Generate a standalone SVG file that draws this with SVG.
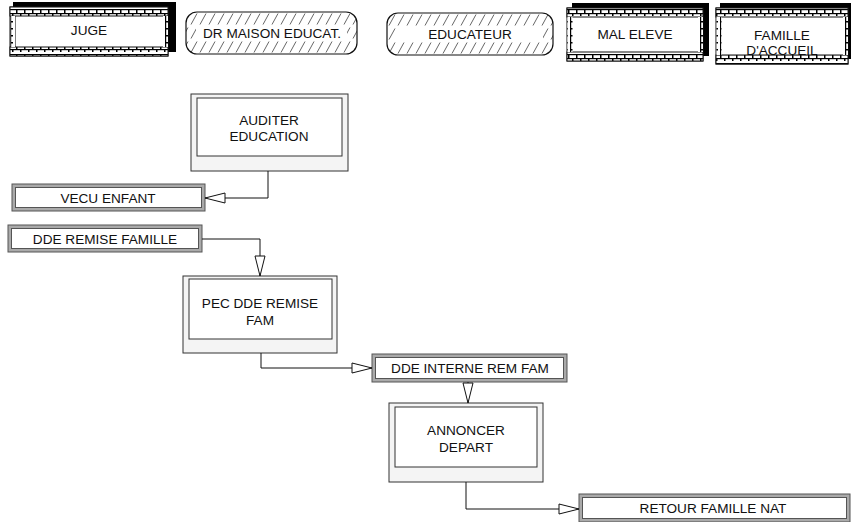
<svg xmlns="http://www.w3.org/2000/svg" width="852" height="522" viewBox="0 0 852 522">
<style>
text{font-family:"Liberation Sans",Arial,sans-serif;font-size:13.6px;fill:#111;text-anchor:middle;dominant-baseline:central}
.main{fill:#fff;stroke:#111;stroke-width:1}
.shadow{fill:#000}
.bh{fill:url(#brickH);stroke:#111;stroke-width:1}
.bv{fill:url(#brickV);stroke:none}
.hatch{stroke:#111;stroke-width:1.2}
.band{fill:#fff}
.pout{fill:#f4f4f4;stroke:#333;stroke-width:1}
.pin{fill:#fff;stroke:#333;stroke-width:1}
.gout{fill:#aaa;stroke:#555;stroke-width:1}
.gin{fill:#fff;stroke:#555;stroke-width:1}
.conn{fill:none;stroke:#111;stroke-width:1;marker-end:url(#arr)}
</style>
<defs>
<pattern id="brickH" width="8" height="9" patternUnits="userSpaceOnUse">
<rect width="8" height="9" fill="#fff"/>
<rect x="0" y="0" width="8" height="1.2" fill="#000"/>
<rect x="0" y="4" width="8" height="1.2" fill="#000"/>
<rect x="0" y="0" width="1.5" height="4" fill="#000"/>
<rect x="4" y="4" width="1.5" height="3" fill="#000"/>
</pattern>
<pattern id="brickV" width="5" height="7" patternUnits="userSpaceOnUse">
<rect width="5" height="7" fill="#fff"/>
<rect x="0" y="0" width="1.2" height="7" fill="#000"/>
<rect x="0" y="0" width="3" height="1.5" fill="#000"/>
</pattern>
<pattern id="hatchA" x="0" y="12" width="9" height="14" patternUnits="userSpaceOnUse">
<rect width="9" height="14" fill="#fff"/>
<line x1="2" y1="12.5" x2="8" y2="1.5" stroke="#555" stroke-width="0.9"/>
</pattern>
<pattern id="hatchB" x="0" y="13" width="9" height="14" patternUnits="userSpaceOnUse">
<rect width="9" height="14" fill="#fff"/>
<line x1="2" y1="12.5" x2="8" y2="1.5" stroke="#555" stroke-width="0.9"/>
</pattern>
<marker id="arr" viewBox="-1 -6 22 12" markerWidth="22" markerHeight="12" refX="20" refY="0" orient="auto" markerUnits="userSpaceOnUse">
<path d="M0,-5 L20,0 L0,5 Z" fill="#fff" stroke="#111" stroke-width="1"/>
</marker>
</defs>

<g id="juge">
<rect class="shadow" x="13" y="2" width="163" height="50"/>
<rect class="main" x="10" y="7" width="158" height="49"/>
<rect class="bh" x="10" y="7" width="158" height="9"/>
<rect class="bh" x="10" y="47" width="158" height="9"/>
<rect class="bv" x="10.5" y="16" width="5" height="31"/>
<rect class="bv" x="163" y="16" width="5" height="31"/>
<text x="89" y="30">JUGE</text>
</g>

<g id="dr-maison">
<rect class="hatch" fill="url(#hatchA)" x="186" y="12" width="171" height="42" rx="11" ry="11"/>
<rect class="band" x="196" y="26" width="151" height="14"/>
<text x="272" y="33">DR MAISON EDUCAT.</text>
</g>

<g id="educateur">
<rect class="hatch" fill="url(#hatchB)" x="387" y="13" width="166" height="42" rx="11" ry="11"/>
<rect class="band" x="397" y="27" width="146" height="14"/>
<text x="470" y="34">EDUCATEUR</text>
</g>

<g id="mal-eleve">
<rect class="shadow" x="572" y="3" width="137" height="53"/>
<rect class="main" x="567" y="8" width="136" height="53"/>
<rect class="bh" x="567" y="8" width="136" height="9"/>
<rect class="bh" x="567" y="52" width="136" height="9"/>
<rect class="bv" x="567.5" y="17" width="5" height="35"/>
<rect class="bv" x="698" y="17" width="5" height="35"/>
<text x="635" y="34">MAL ELEVE</text>
</g>

<g id="famille-accueil">
<rect class="shadow" x="720" y="3" width="131" height="56"/>
<rect class="main" x="716" y="8" width="132" height="56"/>
<rect class="bh" x="716" y="8" width="132" height="9"/>
<rect class="bh" x="716" y="55" width="132" height="9"/>
<rect class="bv" x="716.5" y="17" width="5" height="38"/>
<rect class="bv" x="843" y="17" width="5" height="38"/>
<text x="782" y="35">FAMILLE</text>
<text x="782" y="50">D'ACCUEIL</text>
</g>

<g id="auditer-education">
<rect class="pout" x="191" y="94" width="157" height="77"/>
<rect class="pin" x="197" y="98" width="145" height="58"/>
<text x="269" y="120">AUDITER</text>
<text x="269" y="136">EDUCATION</text>
</g>

<g id="vecu-enfant">
<rect class="gout" x="12" y="184" width="193" height="27"/>
<rect class="gin" x="15.5" y="187.5" width="186" height="20"/>
<text x="108" y="198">VECU ENFANT</text>
</g>

<g id="dde-remise-famille">
<rect class="gout" x="8" y="225" width="194" height="27"/>
<rect class="gin" x="11.5" y="228.5" width="187" height="20"/>
<text x="105" y="239">DDE REMISE FAMILLE</text>
</g>

<g id="pec-dde-remise-fam">
<rect class="pout" x="183" y="276" width="154" height="77"/>
<rect class="pin" x="189" y="279" width="143" height="60"/>
<text x="260" y="303">PEC DDE REMISE</text>
<text x="260" y="320">FAM</text>
</g>

<g id="dde-interne-rem-fam">
<rect class="gout" x="372" y="354" width="195" height="28"/>
<rect class="gin" x="375.5" y="357.5" width="188" height="21"/>
<text x="470" y="368">DDE INTERNE REM FAM</text>
</g>

<g id="annoncer-depart">
<rect class="pout" x="389" y="403" width="154" height="79"/>
<rect class="pin" x="395" y="407" width="142" height="60"/>
<text x="466" y="430">ANNONCER</text>
<text x="466" y="447">DEPART</text>
</g>

<g id="retour-famille-nat">
<rect class="gout" x="579" y="494" width="271" height="28"/>
<rect class="gin" x="582.5" y="497.5" width="264" height="21"/>
<text x="713" y="508">RETOUR FAMILLE NAT</text>
</g>

<g id="connectors">
<path class="conn" d="M268,171 V198 H205"/>
<path class="conn" d="M202,239 H260 V276"/>
<path class="conn" d="M261,353 V368 H372"/>
<path class="conn" d="M468,382 V403"/>
<path class="conn" d="M466,482 V509 H579"/>
</g>
</svg>
